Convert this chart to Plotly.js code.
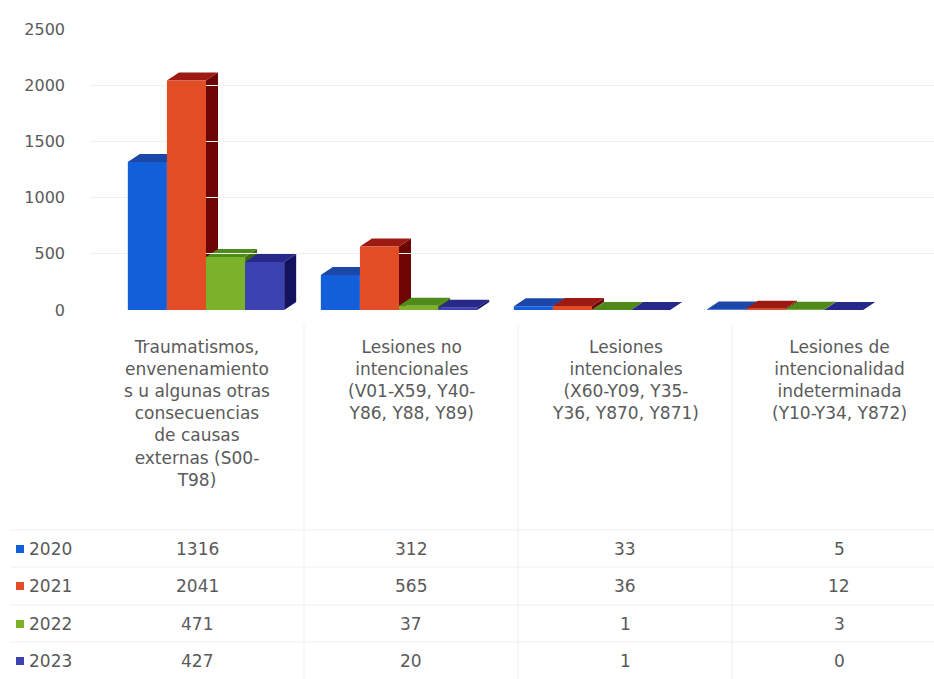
<!DOCTYPE html>
<html><head><meta charset="utf-8">
<script src="https://cdn.plot.ly/plotly-3.0.1.min.js"></script>
<style>html,body{margin:0;padding:0;background:#fff;}#chart{width:934px;height:679px;}</style>
</head><body><div id="chart"></div>
<script>
// ---- data ----
const categories = [
  "Traumatismos,<br>envenenamiento<br>s u algunas otras<br>consecuencias<br>de causas<br>externas (S00-<br>T98)",
  "Lesiones no<br>intencionales<br>(V01-X59, Y40-<br>Y86, Y88, Y89)",
  "Lesiones<br>intencionales<br>(X60-Y09, Y35-<br>Y36, Y870, Y871)",
  "Lesiones de<br>intencionalidad<br>indeterminada<br>(Y10-Y34, Y872)"
];
const years = ["2020", "2021", "2022", "2023"];
const v2020 = [1316, 312, 33, 5];
const v2021 = [2041, 565, 36, 12];
const v2022 = [471, 37, 1, 3];
const v2023 = [427, 20, 1, 0];
const yTickVals = [0, 500, 1000, 1500, 2000, 2500];

// ---- style ----
const series = [v2020, v2021, v2022, v2023];
const frontCol = ["#135fd9", "#e24d26", "#7bb22a", "#3d42b3"];
const topCol   = ["#1a47a8", "#9c1a12", "#4f8b18", "#27288a"];
const sideCol  = ["#0b3485", "#6e0505", "#3b6a10", "#12125e"];
const TXT = "#5a5a5a";
const FONT = "DejaVu Sans, Liberation Sans, sans-serif";
const TOP = 29, BOT = 310, LEFT = 90, W = 934, H = 679;
const py = p => (BOT - p) / (BOT - TOP);
const px = p => (p - LEFT) / (W - LEFT);

const BARGAP = 0.19;
const bw = (1 - BARGAP) / 4;
const YMAX = 2500;
const unitPx = 193;                // px per category on bar axis
const DX = 12 / unitPx;            // depth in x units
const DY = 8 * YMAX / (BOT - TOP); // depth in y units

const xi = categories.map((c, i) => i);
const traces = series.map((vals, j) => ({
  type: "bar", x: xi, y: vals, name: years[j],
  marker: {color: frontCol[j], line: {width: 0}},
  hoverinfo: "y", showlegend: false
}));

const shapes = [];
xi.forEach(i => {
  series.forEach((vals, j) => {
    const v = vals[i];
    const x0 = i - 2 * bw + j * bw, x1 = x0 + bw;
    shapes.push({type: "path", xref: "x", yref: "y", layer: "below",
      path: `M${x1},0 L${x1},${v} L${x1 + DX},${v + DY} L${x1 + DX},${DY} Z`,
      fillcolor: sideCol[j], line: {width: 0}});
    shapes.push({type: "path", xref: "x", yref: "y", layer: "below",
      path: `M${x0},${v} L${x0 + DX},${v + DY} L${x1 + DX},${v + DY} L${x1},${v} Z`,
      fillcolor: topCol[j], line: {width: 0}});
  });
});

// table grid lines
const lineCol = "#efefef";
[0.5, 1.5, 2.5].forEach(b => shapes.push({type: "line", xref: "x2", yref: "paper",
  x0: b, x1: b, y0: py(325), y1: py(679), line: {color: lineCol, width: 1}}));
[530, 567, 605, 642].forEach(r => shapes.push({type: "line", xref: "paper", yref: "paper",
  x0: px(10), x1: 1, y0: py(r), y1: py(r), line: {color: lineCol, width: 1}}));

const rowY = [549, 586, 624, 661];
const annotations = [];
categories.forEach((c, i) => annotations.push({xref: "x2", yref: "paper", x: i, y: py(335),
  text: c, showarrow: false, xanchor: "center", yanchor: "top", align: "center",
  font: {family: FONT, size: 17, color: TXT}}));
years.forEach((yr, j) => {
  shapes.push({type: "rect", xref: "paper", yref: "paper", x0: px(16), x1: px(24),
    y0: py(rowY[j] + 4), y1: py(rowY[j] - 4), fillcolor: frontCol[j], line: {width: 0}});
  annotations.push({xref: "paper", yref: "paper", x: px(27), y: py(rowY[j]), text: yr,
    showarrow: false, xanchor: "left", yanchor: "middle",
    font: {family: FONT, size: 17, color: TXT}});
  series[j].forEach((v, i) => annotations.push({xref: "x2", yref: "paper", x: i, y: py(rowY[j]),
    text: String(v), showarrow: false, xanchor: "center", yanchor: "middle",
    font: {family: FONT, size: 17, color: TXT}}));
});

const layout = {
  width: W, height: H,
  margin: {l: LEFT, r: 0, t: TOP, b: H - BOT, pad: 0},
  paper_bgcolor: "#ffffff", plot_bgcolor: "#ffffff",
  barmode: "group", bargap: BARGAP, bargroupgap: 0,
  xaxis: {type: "linear", range: [-116 / unitPx, (W - 206) / unitPx], showticklabels: false,
    showgrid: false, zeroline: false, showline: false, ticks: ""},
  xaxis2: {type: "linear", overlaying: "x", anchor: "y", range: [-0.5, -0.5 + (W - LEFT) / 214],
    visible: false},
  yaxis: {range: [0, YMAX], tickvals: yTickVals, ticktext: yTickVals.map(String),
    showgrid: true, gridcolor: "#f0f0f0", zeroline: false, showline: false, ticks: "",
    ticklabelstandoff: 24, tickfont: {family: FONT, size: 16, color: TXT}},
  shapes: shapes, annotations: annotations, showlegend: false
};
Plotly.newPlot("chart", traces, layout, {staticPlot: true});
</script></body></html>
